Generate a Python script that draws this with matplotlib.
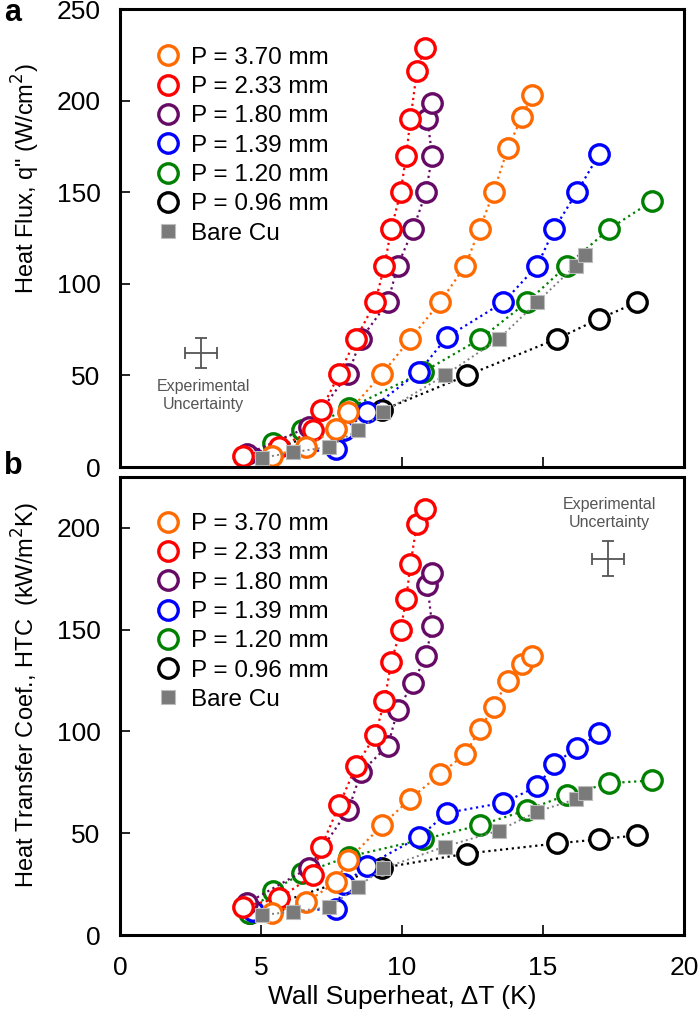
import matplotlib.pyplot as plt
from matplotlib import font_manager

plt.rcParams['font.family'] = ['Liberation Sans', 'DejaVu Sans']

# Legend labels and colours
labels = ['P = 3.70 mm', 'P = 2.33 mm', 'P = 1.80 mm', 'P = 1.39 mm',
          'P = 1.20 mm', 'P = 0.96 mm']
colors = ['#ff6a00', '#ff0000', '#660a66', '#0000ff', '#008000', '#000000']

# Wall superheat (K) for each surface, shared by both panels
dt_370 = [5.4, 6.6, 7.65, 8.1, 9.3, 10.3, 11.35, 12.25, 12.75, 13.25, 13.75, 14.25, 14.6]
dt_233 = [4.35, 5.65, 6.86, 7.13, 7.78, 8.37, 9.05, 9.38, 9.62, 9.95, 10.15, 10.3, 10.53, 10.8]
dt_180 = [4.5, 6.7, 8.1, 8.55, 9.5, 9.85, 10.4, 10.85, 11.07, 10.9, 11.05]
dt_139 = [4.7, 7.65, 7.95, 8.75, 10.6, 11.6, 13.6, 14.8, 15.4, 16.2, 17.0]
dt_120 = [4.58, 5.41, 6.45, 8.11, 10.76, 12.78, 14.43, 15.85, 17.35, 18.85]
dt_096 = [4.6, 9.3, 12.3, 15.5, 17.0, 18.35]
dt_bare = [5.03, 6.12, 7.4, 8.43, 9.34, 11.51, 13.44, 14.79, 16.16, 16.48]

# Heat flux (W/cm2), panel a
q_370 = [6, 11, 21, 30, 51, 70, 90, 110, 130, 150, 174, 191, 203]
q_233 = [6, 11, 20, 31, 51, 70, 90, 110, 130, 150, 170, 190, 216, 229]
q_180 = [7, 22, 51, 70, 90, 110, 130, 150, 170, 190, 199]
q_139 = [5, 10, 20, 30, 52, 71, 90, 110, 130, 150, 171]
q_120 = [4, 13, 20, 32, 52, 70, 90, 110, 130, 145]
q_096 = [5, 31, 50, 70, 81, 90]
q_bare = [5, 8, 11, 20, 30, 50, 70, 90, 110, 116]

# Heat transfer coefficient (kW/m2K), panel b
h_370 = [11, 16, 26, 37, 54, 67, 79, 89, 101, 112, 125, 133, 137]
h_233 = [14, 18, 29.5, 43, 64, 83, 98, 115, 134, 150, 165, 182, 202, 209]
h_180 = [15.6, 33, 61.5, 80, 93, 110.6, 124, 137, 152, 172, 178]
h_139 = [12, 12.6, 25, 34, 48, 60, 65, 73, 84, 92, 99]
h_120 = [10.7, 21.8, 30.3, 38.5, 47, 54, 61.4, 68.8, 74.6, 75.9]
h_096 = [11, 33, 40, 45, 47, 49]
h_bare = [9.8, 11.5, 13.6, 23.7, 32.8, 43.4, 51.3, 60.6, 66.7, 69.7]

dts = [dt_370, dt_233, dt_180, dt_139, dt_120, dt_096]
qs = [q_370, q_233, q_180, q_139, q_120, q_096]
hs = [h_370, h_233, h_180, h_139, h_120, h_096]

fig = plt.figure(figsize=(7, 10.19), dpi=100)
ax_a = fig.add_axes([0.1714, 0.5417, 0.8057, 0.4493])
ax_b = fig.add_axes([0.1714, 0.0824, 0.8057, 0.4496])


def draw_panel(ax, ys, y_bare, leg_y):
    # draw in reverse so the legend-top series sits on top
    for dt, y, c, lab in reversed(list(zip(dts, ys, colors, labels))):
        ax.plot(dt, y, ':', color=c, lw=1.6, marker='o', ms=14,
                mfc='white', mec=c, mew=2.4, label=lab)
    ax.plot(dt_bare, y_bare, ':', color='#808080', lw=1.4, marker='s', ms=10,
            mfc='#7a7a7a', mec='#bdbdbd', mew=0.8, label='Bare Cu')
    handles, labs = ax.get_legend_handles_labels()
    order = [5, 4, 3, 2, 1, 0, 6]
    leg = ax.legend([handles[i] for i in order], [labs[i] for i in order],
                    loc='upper left', bbox_to_anchor=(0.036, leg_y), frameon=False,
                    fontsize=17.5, handlelength=0.9, handletextpad=0.5,
                    labelspacing=0.3, borderaxespad=0.3)
    for h in leg.legend_handles:
        h.set_linestyle('')
    ax.set_xlim(0, 20)
    ax.set_xticks([0, 5, 10, 15, 20])
    ax.tick_params(direction='in', length=7, width=1.2, labelsize=19,
                   top=False, right=False)
    ax.tick_params(axis='y', pad=14)
    ax.tick_params(axis='x', pad=15)
    for s in ax.spines.values():
        s.set_linewidth(2.2)


draw_panel(ax_a, qs, q_bare, 0.955)
draw_panel(ax_b, hs, h_bare, 0.958)

ax_a.set_ylim(0, 250)
ax_a.set_yticks([0, 50, 100, 150, 200, 250])
ax_a.tick_params(labelbottom=False)
ax_b.set_ylim(0, 225)
ax_b.set_yticks([0, 50, 100, 150, 200])

# condensed face for the y labels when it exists
names = {f.name for f in font_manager.fontManager.ttflist}
if 'Liberation Sans Narrow' in names:
    ylab_font, ylab_size = ['Liberation Sans Narrow', 'DejaVu Sans'], 20
else:
    ylab_font, ylab_size = ['Liberation Sans', 'DejaVu Sans'], 17
ax_a.set_ylabel('Heat Flux, q" (W/cm$^2$)', fontsize=ylab_size, family=ylab_font)
ax_b.set_ylabel('Heat Transfer Coef., HTC  (kW/m$^2$K)', fontsize=ylab_size,
                family=ylab_font)
ax_a.yaxis.set_label_coords(-0.138, 0.63)
ax_b.yaxis.set_label_coords(-0.138, 0.525)
ax_b.set_xlabel('Wall Superheat, ΔT (K)', fontsize=19, labelpad=4)

# Experimental uncertainty crosses
unc_color = '#555555'
ax_a.errorbar([2.88], [62.4], xerr=[0.57], yerr=[8.2], fmt='none',
              ecolor=unc_color, elinewidth=1.3, capsize=4, capthick=1.3)
ax_a.text(2.95, 48, 'Experimental\nUncertainty', ha='center', va='top',
          fontsize=11.5, color=unc_color, linespacing=1.25)
ax_b.errorbar([17.3], [184.9], xerr=[0.57], yerr=[8.6], fmt='none',
              ecolor=unc_color, elinewidth=1.3, capsize=4, capthick=1.3)
ax_b.text(17.35, 215, 'Experimental\nUncertainty', ha='center', va='top',
          fontsize=11.5, color=unc_color, linespacing=1.25)

fig.text(0.006, 0.987, 'a', fontsize=22, fontweight='bold', va='center')
fig.text(0.006, 0.543, 'b', fontsize=22, fontweight='bold', va='center')

fig.savefig('out.png', dpi=100)
